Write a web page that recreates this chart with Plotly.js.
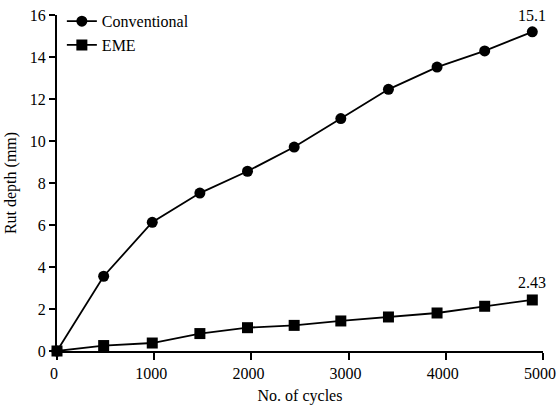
<!DOCTYPE html>
<html>
<head>
<meta charset="utf-8">
<script src="https://cdn.plot.ly/plotly-3.0.1.min.js"></script>
<style>html,body{margin:0;padding:0;background:#fff;}#chart{width:557px;height:411px;}</style>
</head>
<body>
<div id="chart"></div>
<script>
const cycles = [0, 480, 980, 1470, 1960, 2440, 2920, 3410, 3910, 4400, 4890];
const conventional = [0, 3.56, 6.13, 7.52, 8.56, 9.71, 11.07, 12.46, 13.52, 14.29, 15.2];
const eme = [0, 0.26, 0.38, 0.83, 1.11, 1.22, 1.43, 1.62, 1.81, 2.13, 2.43];
const seriesNames = ["Conventional", "EME"];
const endLabels = ["15.1", "2.43"];
const xTicks = [0, 1000, 2000, 3000, 4000, 5000];
const yTicks = [0, 2, 4, 6, 8, 10, 12, 14, 16];

const font = {family: "Liberation Serif", size: 16, color: "#000"};

const traces = [
  {x: cycles, y: conventional, name: seriesNames[0], mode: "lines+markers",
   line: {color: "#000", width: 1.8}, marker: {symbol: "circle", size: 11, color: "#000"}, cliponaxis: false},
  {x: cycles, y: eme, name: seriesNames[1], mode: "lines+markers",
   line: {color: "#000", width: 1.8}, marker: {symbol: "square", size: 11, color: "#000"}, cliponaxis: false}
];

const last = cycles.length - 1;
const layout = {
  width: 557, height: 411,
  margin: {l: 57, r: 14, t: 15, b: 60, autoexpand: false},
  paper_bgcolor: "#fff", plot_bgcolor: "#fff",
  font: font,
  showlegend: true,
  legend: {x: 0.01, y: 1.032, xanchor: "left", yanchor: "top",
           bgcolor: "rgba(0,0,0,0)", font: font, tracegroupgap: 0, itemwidth: 30},
  xaxis: {range: [0, 5000], tickvals: xTicks, ticktext: xTicks.map(String),
          showline: true, linecolor: "#000", linewidth: 2, showgrid: false, zeroline: false,
          ticks: "outside", ticklen: 7, tickwidth: 2, tickcolor: "#000", ticklabeloverflow: "allow",
          ticklabelshift: -3,
          tickfont: font, title: {text: "No. of cycles", font: font, standoff: 9}},
  yaxis: {range: [0, 16], tickvals: yTicks, ticktext: yTicks.map(String),
          showline: true, linecolor: "#000", linewidth: 2, showgrid: false, zeroline: false,
          ticks: "outside", ticklen: 6, tickwidth: 2, tickcolor: "#000",
          tickfont: font, title: {text: "Rut depth (mm)", font: font, standoff: 9}},
  annotations: [
    {x: cycles[last], y: conventional[last], text: endLabels[0], showarrow: false, yshift: 16, font: font},
    {x: cycles[last], y: eme[last], text: endLabels[1], showarrow: false, yshift: 17, font: font}
  ]
};

Plotly.newPlot("chart", traces, layout, {displayModeBar: false, staticPlot: true});
</script>
</body>
</html>
